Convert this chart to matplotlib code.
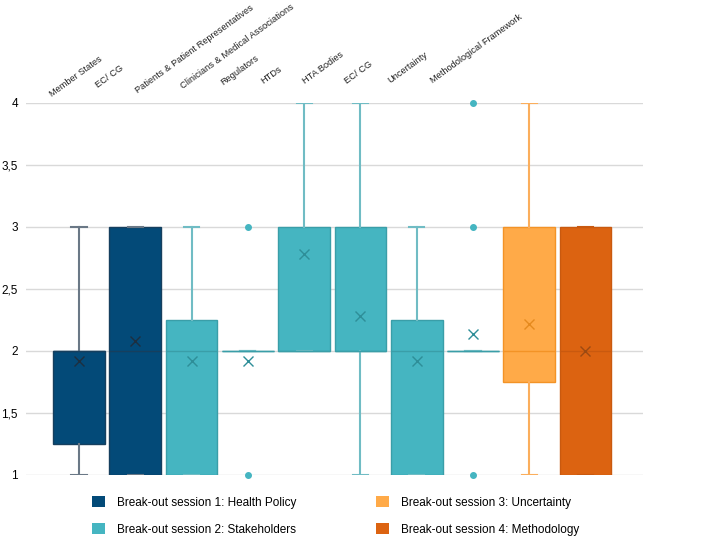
import matplotlib
matplotlib.use("Agg")
import matplotlib.pyplot as plt
from matplotlib.patches import Patch
from matplotlib.ticker import FuncFormatter

plt.rcParams['font.family'] = ['Liberation Sans', 'DejaVu Sans']

# categories (label order along the top)
labels = ['Member States', 'EC/ CG', 'Patients & Patient Representatives',
          'Clinicians & Medical Associations', 'Regulators', 'HTDs',
          'HTA Bodies', 'EC/ CG', 'Uncertainty', 'Methodological Framework']
session = [1, 1, 2, 2, 2, 2, 2, 2, 3, 4]

# box statistics
q1 = [1.25, 1, 1, 2, 2, 2, 1, 2, 1.75, 1]
med = [2, 2, 2, 2, 2, 2, 2, 2, 2, 2]
q3 = [2, 3, 2.25, 2, 3, 3, 2.25, 2, 3, 3]
whislo = [1, 1, 1, 2, 2, 1, 1, 2, 1, 1]
whishi = [3, 3, 3, 2, 4, 4, 3, 2, 4, 3]
means = [1.92, 2.08, 1.92, 1.92, 2.78, 2.28, 1.92, 2.14, 2.22, 2.0]
fliers = [[], [], [], [1, 3], [], [], [], [1, 3, 4], [], []]

legend_names = ['Break-out session 1: Health Policy',
                'Break-out session 2: Stakeholders',
                'Break-out session 3: Uncertainty',
                'Break-out session 4: Methodology']

# session styles: fill, edge, whisker, mean marker
fill = {1: '#034A78', 2: '#45B5C1', 3: '#FFAA48', 4: '#DC6311'}
edge = {1: '#163F5E', 2: '#3A9EA8', 3: '#F39326', 4: '#C9590F'}
whisk = {1: '#6A7886', 2: '#70BCC4', 3: '#FBAE5C', 4: '#C9590F'}
meanc = {1: '#1D2F3F', 2: '#2E8E98', 3: '#E58A1E', 4: '#9C4A12'}

fig = plt.figure(figsize=(7.08, 5.36), dpi=100)
ax = fig.add_axes([0.037, 0.114, 0.871, 0.694])

for i in range(len(labels)):
    s = session[i]
    st = [dict(q1=q1[i], med=med[i], q3=q3[i], whislo=whislo[i],
               whishi=whishi[i], mean=means[i], fliers=fliers[i])]
    ax.bxp(st, positions=[i + 1], widths=0.92, capwidths=0.27,
           patch_artist=True, showmeans=True, showfliers=True,
           boxprops=dict(facecolor=fill[s], edgecolor=edge[s], linewidth=1.0),
           medianprops=dict(color=edge[s], linewidth=1.0),
           whiskerprops=dict(color=whisk[s], linewidth=1.5),
           capprops=dict(color=whisk[s], linewidth=1.5),
           meanprops=dict(marker='x', markersize=7, markeredgecolor=meanc[s],
                          markeredgewidth=1.0),
           flierprops=dict(marker='o', markersize=4, markerfacecolor=fill[s],
                           markeredgecolor=fill[s], clip_on=False),
           manage_ticks=False, zorder=3)

ax.set_xlim(0.06, 11.02)
ax.set_ylim(1, 4)
ax.set_yticks([1, 1.5, 2, 2.5, 3, 3.5, 4])
ax.yaxis.set_major_formatter(FuncFormatter(lambda v, p: f'{v:g}'.replace('.', ',')))
ax.tick_params(axis='y', length=0, labelsize=8.5, pad=6)
ax.set_xticks([])
ax.grid(axis='y', color='#D9D9D9', linewidth=1.0, zorder=0)
ax.set_axisbelow(True)
for sp in ax.spines.values():
    sp.set_visible(False)

# category labels sit above the plot, not aligned with the boxes
lab_x = [0.51, 1.34, 2.05, 2.85, 3.56, 4.27, 5.02, 5.76, 6.53, 7.29]
lab_y = [4.05, 4.12, 4.08, 4.11, 4.14, 4.15, 4.15, 4.15, 4.16, 4.16]
for t, x, y in zip(labels, lab_x, lab_y):
    ax.text(x, y, t, rotation=36, rotation_mode='anchor', ha='left',
            va='baseline', fontsize=6.7, color='#222222', clip_on=False)

handles = [Patch(facecolor=fill[k], edgecolor='none') for k in (1, 2, 3, 4)]
fig.legend(handles, legend_names, loc='lower left', bbox_to_anchor=(0.115, -0.019),
           ncol=2, frameon=False, fontsize=8.5, handlelength=1.1,
           handleheight=1.1, handletextpad=1.0, columnspacing=6.8,
           labelspacing=1.2)

fig.savefig('out.png', dpi=100)
